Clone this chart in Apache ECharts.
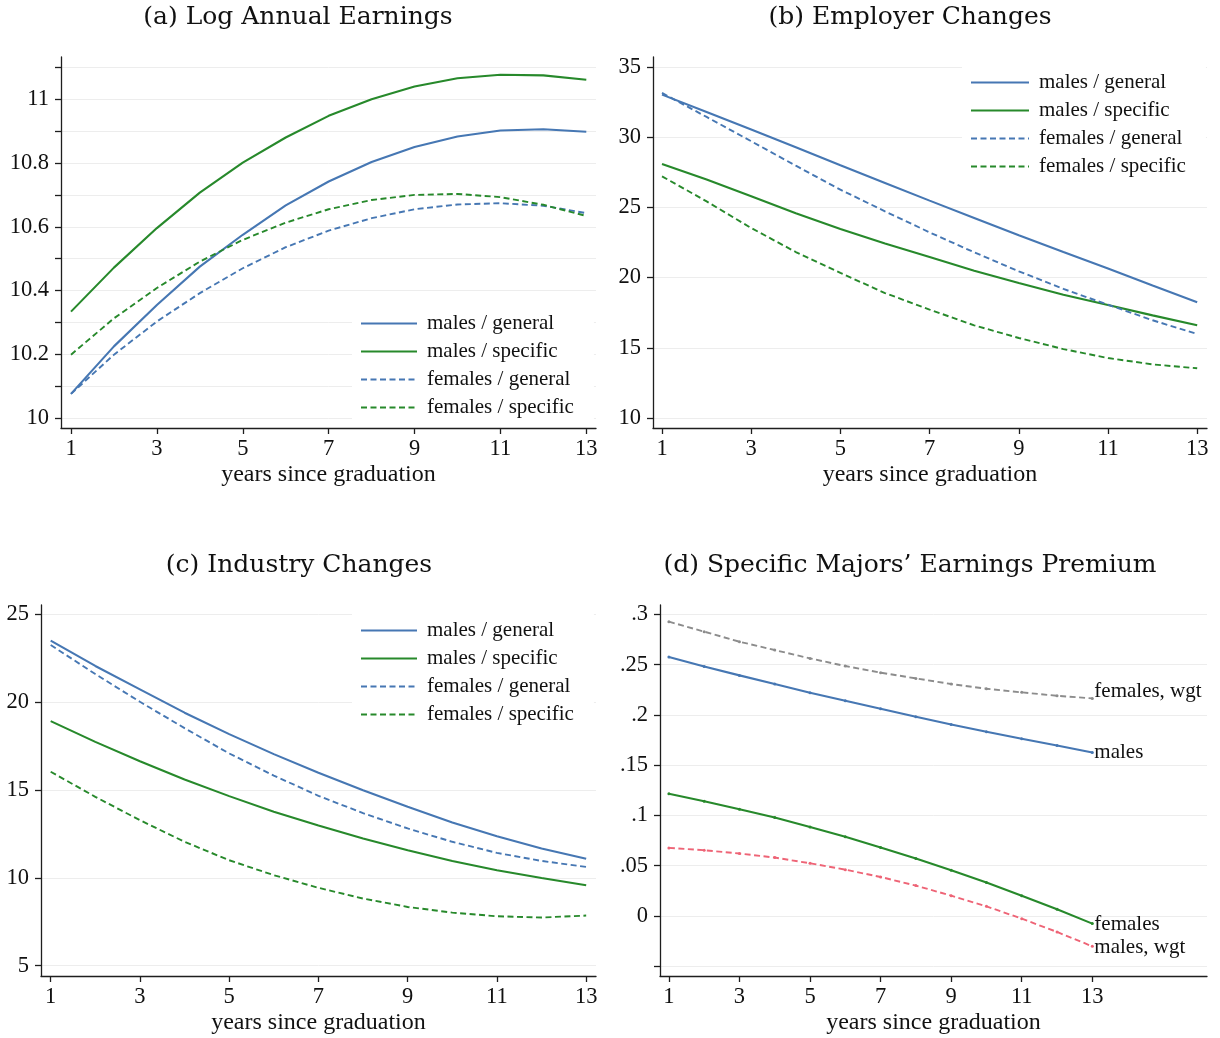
<!DOCTYPE html>
<html>
<head>
<meta charset="utf-8">
<script src="https://cdn.jsdelivr.net/npm/echarts@6/dist/echarts.min.js"></script>
<style>
  html, body { margin: 0; padding: 0; background: #ffffff; }
  #chart { width: 1220px; height: 1038px; }
</style>
</head>
<body>
<div id="chart"></div>
<script>
// ---------------- data ----------------
const years = [1, 2, 3, 4, 5, 6, 7, 8, 9, 10, 11, 12, 13];
const xTickValues = [1, 3, 5, 7, 9, 11, 13];

// (a) Log Annual Earnings
const earnMalesGeneral   = [10.076, 10.225, 10.355, 10.475, 10.575, 10.667, 10.742, 10.803, 10.850, 10.883, 10.902, 10.906, 10.898];
const earnMalesSpecific  = [10.334, 10.472, 10.596, 10.707, 10.801, 10.880, 10.948, 11.000, 11.040, 11.066, 11.077, 11.075, 11.061];
const earnFemalesGeneral = [10.076, 10.199, 10.303, 10.392, 10.470, 10.536, 10.588, 10.627, 10.655, 10.670, 10.674, 10.666, 10.643];
const earnFemalesSpecific= [10.199, 10.313, 10.408, 10.491, 10.559, 10.613, 10.655, 10.684, 10.700, 10.703, 10.693, 10.669, 10.634];
const earnYLabels = [10, 10.2, 10.4, 10.6, 10.8, 11];
const earnYTicks  = [10, 10.1, 10.2, 10.3, 10.4, 10.5, 10.6, 10.7, 10.8, 10.9, 11, 11.1];

// (b) Employer Changes
const empMalesGeneral    = [33.03, 31.79, 30.54, 29.28, 28.00, 26.74, 25.48, 24.25, 23.01, 21.82, 20.64, 19.43, 18.24];
const empMalesSpecific   = [28.09, 26.98, 25.79, 24.58, 23.46, 22.42, 21.47, 20.49, 19.62, 18.78, 18.05, 17.31, 16.60];
const empFemalesGeneral  = [33.15, 31.44, 29.71, 27.97, 26.26, 24.72, 23.22, 21.80, 20.45, 19.19, 18.07, 16.96, 15.98];
const empFemalesSpecific = [27.21, 25.43, 23.53, 21.82, 20.33, 18.90, 17.72, 16.60, 15.70, 14.91, 14.27, 13.82, 13.54];
const empYTicks = [10, 15, 20, 25, 30, 35];

// (c) Industry Changes
const indMalesGeneral    = [23.50, 22.06, 20.73, 19.40, 18.18, 17.04, 15.98, 14.99, 14.04, 13.15, 12.37, 11.67, 11.08];
const indMalesSpecific   = [18.92, 17.74, 16.64, 15.60, 14.65, 13.76, 12.98, 12.24, 11.57, 10.96, 10.43, 9.99, 9.58];
const indFemalesGeneral  = [23.25, 21.60, 20.02, 18.52, 17.08, 15.82, 14.67, 13.68, 12.81, 12.05, 11.42, 10.96, 10.62];
const indFemalesSpecific = [16.04, 14.61, 13.28, 12.05, 11.00, 10.15, 9.43, 8.82, 8.34, 8.02, 7.81, 7.74, 7.85];
const indYTicks = [5, 10, 15, 20, 25];

// (d) Specific Majors' Earnings Premium
const premFemalesWgt = [0.2927, 0.2828, 0.2728, 0.2645, 0.2562, 0.2486, 0.2420, 0.2363, 0.2307, 0.2260, 0.2224, 0.2190, 0.2164];
const premMales      = [0.2575, 0.2482, 0.2393, 0.2307, 0.2220, 0.2141, 0.2061, 0.1981, 0.1905, 0.1832, 0.1762, 0.1696, 0.1626];
const premFemales    = [0.1215, 0.1142, 0.1062, 0.0979, 0.0886, 0.0787, 0.0680, 0.0571, 0.0455, 0.0332, 0.0202, 0.0066, -0.0076];
const premMalesWgt   = [0.0677, 0.0654, 0.0621, 0.0581, 0.0524, 0.0461, 0.0388, 0.0302, 0.0202, 0.0096, -0.0027, -0.0159, -0.0302];
const premYLabels = [0, 0.05, 0.1, 0.15, 0.2, 0.25, 0.3];
const premYTicks  = [-0.05, 0, 0.05, 0.1, 0.15, 0.2, 0.25, 0.3];

const legendNames = ['males / general', 'males / specific', 'females / general', 'females / specific'];
const titles = ['(a) Log Annual Earnings', '(b) Employer Changes', '(c) Industry Changes', "(d) Specific Majors\u2019 Earnings Premium"];
const xName = 'years since graduation';

// ---------------- styling ----------------
const SERIF = '"Liberation Serif", "Times New Roman", serif';
const TITLEFONT = '"DejaVu Serif", "Liberation Serif", serif';
const BLUE = '#4677b3';
const GREEN = '#27892b';
const GRAY = '#8c8c8c';
const RED = '#ee6476';
const AXIS = '#1e1e1e';
const GRID = '#ededed';
const DASH = [6, 3.5];

function pairs(vals) { return years.map((y, i) => [y, vals[i]]); }

function xAxis(gi, min, max) {
  return {
    type: 'value', gridIndex: gi, min: min, max: max,
    name: xName, nameLocation: 'middle', nameGap: 35,
    nameTextStyle: { fontFamily: SERIF, fontSize: 24, color: '#111' },
    axisLine: { show: true, onZero: false, lineStyle: { color: AXIS, width: 1.3 } },
    axisTick: { show: true, inside: false, length: 6, customValues: xTickValues, lineStyle: { color: AXIS, width: 1.3 } },
    axisLabel: { customValues: xTickValues, fontFamily: SERIF, fontSize: 22.5, color: '#111', margin: 10 },
    splitLine: { show: false }
  };
}
function yAxis(gi, min, max, ticks, labels, fmt) {
  return {
    type: 'value', gridIndex: gi, min: min, max: max,
    axisLine: { show: true, onZero: false, lineStyle: { color: AXIS, width: 1.3 } },
    axisTick: { show: true, inside: false, length: 6, customValues: ticks, lineStyle: { color: AXIS, width: 1.3 } },
    axisLabel: { customValues: labels, fontFamily: SERIF, fontSize: 22.5, color: '#111', margin: 12, formatter: fmt },
    splitLine: { show: true, lineStyle: { color: GRID, width: 1 } }
  };
}
function line(name, gi, vals, color, dashed, extra) {
  const s = {
    type: 'line', name: name, xAxisIndex: gi, yAxisIndex: gi,
    data: pairs(vals), symbol: 'none', smooth: false,
    lineStyle: { color: color, width: dashed ? 1.9 : 2.1, type: dashed ? DASH : 'solid' },
    itemStyle: { color: color },
    emphasis: { disabled: true }
  };
  return Object.assign(s, extra || {});
}
function legend(left, top, padding, itemWidth) {
  return {
    data: legendNames, orient: 'vertical', left: left, top: top, padding: padding,
    itemWidth: itemWidth, itemHeight: 14, itemGap: 7,
    backgroundColor: '#ffffff', selectedMode: false,
    itemStyle: { opacity: 0, borderWidth: 0 },
    textStyle: { fontFamily: SERIF, fontSize: 21, color: '#111', padding: [0, 0, 0, 5] }
  };
}
function endLbl(offset) {
  return {
    symbol: 'circle', symbolSize: 3, showSymbol: true,
    endLabel: { show: true, formatter: '{a}', fontFamily: SERIF, fontSize: 21, color: '#111', distance: 2, offset: offset || [0, 0] }
  };
}

const fmtPlain = v => String(+(+v).toFixed(2));
const fmtDot = v => { const n = +(+v).toFixed(2); return n === 0 ? '0' : String(n).replace(/^0\./, '.').replace(/^-0\./, '-.'); };

const titleStyle = { fontFamily: TITLEFONT, fontSize: 25, fontWeight: 'normal', color: '#111' };

const option = {
  animation: false,
  backgroundColor: '#ffffff',
  title: [
    { text: titles[0], left: 293, top: 0, textAlign: 'center', textStyle: titleStyle },
    { text: titles[1], left: 905, top: 0, textAlign: 'center', textStyle: titleStyle },
    { text: titles[2], left: 294, top: 548, textAlign: 'center', textStyle: titleStyle },
    { text: titles[3], left: 905, top: 548, textAlign: 'center', textStyle: titleStyle }
  ],
  grid: [
    { left: 61,  top: 57,  width: 535, height: 371 },
    { left: 653, top: 57,  width: 554, height: 371 },
    { left: 41,  top: 605, width: 555, height: 371 },
    { left: 660, top: 605, width: 547, height: 371 }
  ],
  xAxis: [
    xAxis(0, 0.767, 13.226),
    xAxis(1, 0.798, 13.22),
    xAxis(2, 0.783, 13.22),
    xAxis(3, 0.748, 16.25)
  ],
  yAxis: [
    yAxis(0, 9.969, 11.1325, earnYTicks, earnYLabels, fmtPlain),
    yAxis(1, 9.288, 35.71, empYTicks, empYTicks, fmtPlain),
    yAxis(2, 4.41, 25.53, indYTicks, indYTicks, fmtPlain),
    yAxis(3, -0.0597, 0.3093, premYTicks, premYLabels, fmtDot)
  ],
  legend: [
    legend(352, 305, [8, 20, 7, 8], 56),
    legend(962, 58, [14, 20, 10, 8], 58),
    legend(352, 607, [13, 20, 10, 8], 56)
  ],
  series: [
    line(legendNames[0], 0, earnMalesGeneral, BLUE, false),
    line(legendNames[1], 0, earnMalesSpecific, GREEN, false),
    line(legendNames[2], 0, earnFemalesGeneral, BLUE, true),
    line(legendNames[3], 0, earnFemalesSpecific, GREEN, true),

    line(legendNames[0], 1, empMalesGeneral, BLUE, false),
    line(legendNames[1], 1, empMalesSpecific, GREEN, false),
    line(legendNames[2], 1, empFemalesGeneral, BLUE, true),
    line(legendNames[3], 1, empFemalesSpecific, GREEN, true),

    line(legendNames[0], 2, indMalesGeneral, BLUE, false),
    line(legendNames[1], 2, indMalesSpecific, GREEN, false),
    line(legendNames[2], 2, indFemalesGeneral, BLUE, true),
    line(legendNames[3], 2, indFemalesSpecific, GREEN, true),

    line('females, wgt', 3, premFemalesWgt, GRAY, true, endLbl([0, -7])),
    line('males', 3, premMales, BLUE, false, endLbl()),
    line('females', 3, premFemales, GREEN, false, endLbl([0, 1])),
    line('males, wgt', 3, premMalesWgt, RED, true, endLbl([0, 1]))
  ]
};

const chart = echarts.init(document.getElementById('chart'), null, { renderer: 'canvas' });
chart.setOption(option);
</script>
</body>
</html>
